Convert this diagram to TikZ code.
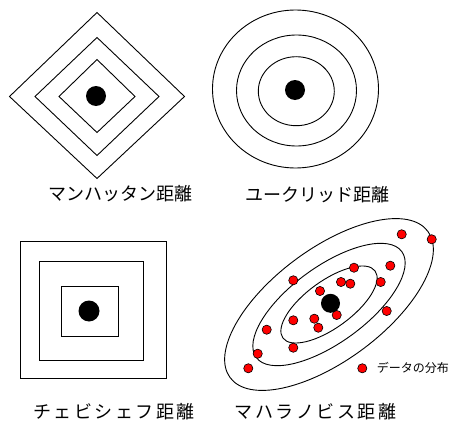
\documentclass[tikz,border=0pt]{standalone}
\usepackage{fontspec}
\newfontfamily\jp{Noto Sans CJK JP}
\newfontfamily\jpwide{Noto Sans CJK JP}[LetterSpace=14]
\begin{document}
\begin{tikzpicture}[x=1pt,y=-1pt,line width=0.9pt,
  centerdot/.style={fill=black,draw=none},
  reddot/.style={fill=red,draw=black,line width=0.6pt},
  lbl/.style={font=\jp\fontsize{18}{21}\selectfont,inner sep=0pt,anchor=center},
  lblwide/.style={font=\jpwide\fontsize{18}{21}\selectfont,inner sep=0pt,anchor=center},
  legendtext/.style={font=\jp\fontsize{12}{14}\selectfont,inner sep=0pt,anchor=west}]
\useasboundingbox (0,0) rectangle (453,423);
% Manhattan
\coordinate (mc) at (97,96.5);
\draw (mc) ++(0,-84) -- ++(87.5,84) -- ++(-87.5,82) -- ++(-87.5,-82) -- cycle;
\draw (mc) ++(0,-59) -- ++(62,59) -- ++(-62,59) -- ++(-62,-59) -- cycle;
\draw (mc) ++(0,-37) -- ++(38,37) -- ++(-38,36) -- ++(-38,-36) -- cycle;
\fill[centerdot] (96,96) circle (10);
\node[lbl] (lman) at (120.5,194) {マンハッタン距離};
% Euclid
\draw (295.5,89) ellipse [x radius=83, y radius=79];
\draw (296.5,90.5) ellipse [x radius=60, y radius=55.5];
\draw (296.3,91.2) ellipse [x radius=38, y radius=34.5];
\fill[centerdot] (295,90) circle (10);
\node[lbl] (leuc) at (317.5,195) {ユークリッド距離};
% Chebyshev
\draw (20,241) rectangle (166,378.3);
\draw (39,261.7) rectangle (143.3,360);
\draw (61,286.7) rectangle (118.3,336.7);
\fill[centerdot] (89,311) circle (10.5);
\node[lblwide] (lche) at (114,412) {チェビシェフ距離};
% Mahalanobis
\coordinate (hc) at (329,304.5);
\draw[rotate around={36.5:(hc)}] (hc) ellipse [x radius=123, y radius=56];
\draw[rotate around={36:(hc)}] (hc) ellipse [x radius=90, y radius=38];
\draw[rotate around={36:(hc)}] (hc) ellipse [x radius=57, y radius=23.5];
\foreach \p in {(401.7,234.3),(431.7,239.3),(354,267.7),(390.3,265.7),(293.3,280.3),(341,282),(350.3,283.7),(380.7,282),(320,291),(386.7,311),(336.7,315),(293.3,320.3),(314.3,318.7),(318.3,327.7),(266.7,329.7),(293.3,347.7),(257.7,353.7),(248.3,368.3)}
  \draw[reddot] \p circle (4.6);
\fill[centerdot] (330.5,303.3) circle (9.5);
\draw[reddot] (362.3,368.3) circle (4.6);
\node[legendtext] (leg) at (376.5,368.3) {データの分布};
\node[lblwide] (lmah) at (315.5,412) {マハラノビス距離};
\end{tikzpicture}
\end{document}
